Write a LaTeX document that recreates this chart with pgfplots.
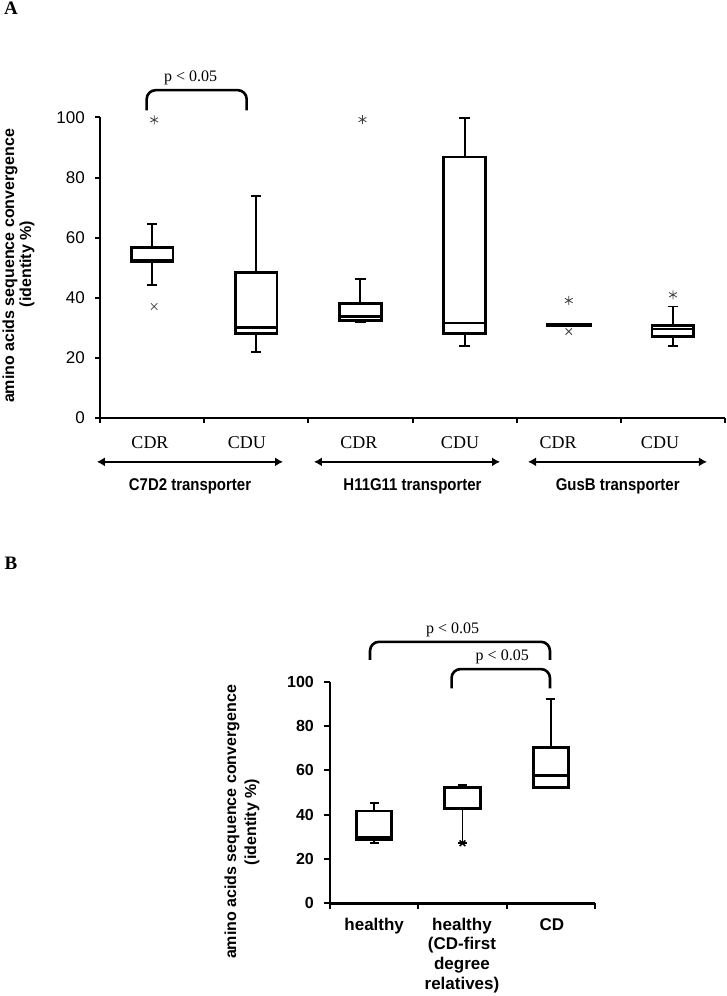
\documentclass[border=0pt]{standalone}
\usepackage{fontspec}
\setmainfont{Liberation Serif}
\setsansfont{Liberation Sans}
\newfontfamily\narrowsans[FakeStretch=0.88]{Liberation Sans}
\usepackage{pgfplots}
\pgfplotsset{compat=1.18}
\usetikzlibrary{arrows.meta}
\newcommand{\fs}[1]{\fontsize{#1}{#1}\selectfont}
% box: #1 position, #2 lower whisker, #3 lower quartile, #4 median, #5 upper quartile, #6 upper whisker, #7 half box width
\newcommand{\bxp}[7]{%
  \pgfmathsetmacro\xl{#1-#7}\pgfmathsetmacro\xr{#1+#7}%
  \pgfmathsetmacro\cl{#1-0.05}\pgfmathsetmacro\cR{#1+0.05}%
  \edef\tmp{%
  \noexpand\addplot[black, line width=1.9pt] coordinates {(#1,#2) (#1,#3)};
  \noexpand\addplot[black, line width=1.9pt] coordinates {(#1,#5) (#1,#6)};
  \noexpand\addplot[black, line width=1.9pt] coordinates {(\cl,#2) (\cR,#2)};
  \noexpand\addplot[black, line width=1.9pt] coordinates {(\cl,#6) (\cR,#6)};
  \noexpand\addplot[black, line width=2.7pt, line join=miter, fill=white] coordinates {(\xl,#3) (\xr,#3) (\xr,#5) (\xl,#5)} -- cycle;
  \noexpand\addplot[black, line width=2.5pt] coordinates {(\xl,#4) (\xr,#4)};
  }\tmp}
\begin{document}
\begin{tikzpicture}[x=1pt,y=1pt]
\useasboundingbox (0,0) rectangle (727,996);
\node[font=\bfseries\fs{19pt}] at (11,988) {A};
\node[font=\bfseries\fs{19pt}] at (11,433) {B};
% ---------------- Panel A ----------------
\begin{axis}[
  at={(100pt,578pt)}, anchor=south west, scale only axis,
  width=625pt, height=300.5pt,
  xmin=-0.5, xmax=5.5, ymin=0, ymax=100,
  axis x line*=bottom, axis y line*=left,
  axis line style={line width=2.6pt},
  xtick={-0.5,0.5,...,5.5}, xticklabels={},
  ytick={0,20,...,100},
  tick align=outside, tick pos=left,
  major tick length=5pt,
  tick style={black, line width=2pt},
  yticklabel style={font=\sffamily\fs{17pt}, inner sep=0pt, xshift=-10pt},
  /pgf/number format/assume math mode=true,
  clip=false,
]
\bxp{0}{44.3}{52.0}{52.6}{56.8}{64.5}{0.2}
\bxp{1}{22.0}{28.2}{30.1}{48.4}{73.9}{0.2}
\bxp{2}{32.0}{32.5}{33.8}{38.2}{46.4}{0.2}
\bxp{3}{24.0}{28.2}{31.6}{86.9}{99.7}{0.2}
\bxp{4}{30.7}{30.7}{31.0}{31.2}{31.2}{0.21}
\bxp{5}{24.0}{27.1}{29.6}{30.8}{37.1}{0.2}
% outliers
\addplot[only marks, mark=asterisk, mark size=4.5pt, draw=black!75, line width=0.8pt] coordinates {(0.02,99.2) (2.02,99.3) (4,39.1) (5,41.0)};
\addplot[only marks, mark=x, mark size=4.5pt, draw=black!75, line width=0.8pt] coordinates {(0.02,37.1) (4,28.8)};
% category labels
\node[font=\fs{18pt}, anchor=base] at (axis cs:-0.02,-10) {CDR};
\node[font=\fs{18pt}, anchor=base] at (axis cs:0.911,-10) {CDU};
\node[font=\fs{18pt}, anchor=base] at (axis cs:1.986,-10) {CDR};
\node[font=\fs{18pt}, anchor=base] at (axis cs:2.956,-10) {CDU};
\node[font=\fs{18pt}, anchor=base] at (axis cs:3.897,-10) {CDR};
\node[font=\fs{18pt}, anchor=base] at (axis cs:4.876,-10) {CDU};
% arrows
\draw[{Latex[length=8pt,width=9pt]}-{Latex[length=8pt,width=9pt]}, line width=1.5pt] (axis cs:-0.53,-14.6) -- (axis cs:1.257,-14.6);
\draw[{Latex[length=8pt,width=9pt]}-{Latex[length=8pt,width=9pt]}, line width=1.5pt] (axis cs:1.554,-14.6) -- (axis cs:3.34,-14.6);
\draw[{Latex[length=8pt,width=9pt]}-{Latex[length=8pt,width=9pt]}, line width=1.5pt] (axis cs:3.609,-14.6) -- (axis cs:5.327,-14.6);
% group labels
\node[font=\narrowsans\bfseries\fs{17pt}, anchor=base] at (axis cs:0.364,-24) {C7D2 transporter};
\node[font=\narrowsans\bfseries\fs{17pt}, anchor=base] at (axis cs:2.5,-24) {H11G11 transporter};
\node[font=\narrowsans\bfseries\fs{17pt}, anchor=base] at (axis cs:4.47,-24) {GusB transporter};
% bracket
\draw[line width=2.6pt, rounded corners=9pt] (axis cs:-0.052,102.4) -- (axis cs:-0.052,109.1) -- (axis cs:0.908,109.1) -- (axis cs:0.908,102.4);
\node[font=\fs{16pt}] at (axis cs:0.37,113.2) {p < 0.05};
\end{axis}
\node[rotate=90, font=\sffamily\bfseries\fs{16pt}] at (10,730) {amino acids sequence convergence};
\node[rotate=90, font=\sffamily\bfseries\fs{16pt}] at (27,732) {(identity \%)};
% ---------------- Panel B ----------------
\begin{axis}[
  at={(330pt,92.7pt)}, anchor=south west, scale only axis,
  width=265pt, height=221.6pt,
  xmin=-0.5, xmax=2.5, ymin=0, ymax=100,
  axis x line*=bottom, axis y line*=left,
  axis line style={line width=2.4pt},
  xtick={-0.5,0.5,1.5,2.5}, xticklabels={},
  ytick={0,20,...,100},
  tick align=outside, tick pos=left,
  major tick length=6pt,
  tick style={black, line width=2pt},
  yticklabel style={font=\sffamily\bfseries\fs{16pt}, inner sep=0pt, xshift=-10pt},
  /pgf/number format/assume math mode=true,
  clip=false,
]
\bxp{0}{27.1}{28.6}{29.6}{41.7}{45.4}{0.2}
\bxp{1}{27.1}{42.7}{52.0}{52.2}{53.4}{0.2}
\bxp{2}{52.2}{52.2}{57.6}{70.4}{92.2}{0.2}
\addplot[only marks, mark=x, mark size=4pt, draw=black, line width=1.6pt] coordinates {(1,27.1)};
% category labels
\node[font=\sffamily\bfseries\fs{17pt}, anchor=base] at (axis cs:0,-12.05) {healthy};
\node[font=\sffamily\bfseries\fs{17pt}, anchor=base] at (axis cs:0.994,-12.05) {healthy};
\node[font=\sffamily\bfseries\fs{17pt}, anchor=base] at (axis cs:0.994,-20.8) {(CD-first};
\node[font=\sffamily\bfseries\fs{17pt}, anchor=base] at (axis cs:0.994,-29.8) {degree};
\node[font=\sffamily\bfseries\fs{17pt}, anchor=base] at (axis cs:0.994,-38.8) {relatives)};
\node[font=\sffamily\bfseries\fs{17pt}, anchor=base] at (axis cs:2.013,-12.05) {CD};
% brackets
\draw[line width=2.6pt, rounded corners=9pt] (axis cs:-0.047,109.8) -- (axis cs:-0.047,118.0) -- (axis cs:1.99,118.0) -- (axis cs:1.99,109.8);
\node[font=\fs{16pt}] at (axis cs:0.889,123.3) {p < 0.05};
\draw[line width=2.6pt, rounded corners=9pt] (axis cs:0.876,97.0) -- (axis cs:0.876,105.7) -- (axis cs:1.99,105.7) -- (axis cs:1.99,97.0);
\node[font=\fs{16pt}] at (axis cs:1.45,111.0) {p < 0.05};
\end{axis}
\node[rotate=90, font=\sffamily\bfseries\fs{16pt}] at (232,174) {amino acids sequence convergence};
\node[rotate=90, font=\sffamily\bfseries\fs{16pt}] at (252,174) {(identity \%)};
\end{tikzpicture}
\end{document}
